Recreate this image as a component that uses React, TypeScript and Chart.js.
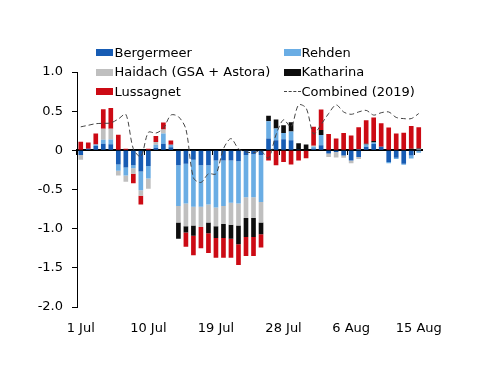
import React, { useEffect, useRef } from 'react';
import { Chart, registerables } from 'chart.js';

Chart.register(...registerables);

const categories = [
  '1 Jul', '2 Jul', '3 Jul', '4 Jul', '5 Jul', '6 Jul', '7 Jul', '8 Jul', '9 Jul', '10 Jul',
  '11 Jul', '12 Jul', '13 Jul', '14 Jul', '15 Jul', '16 Jul', '17 Jul', '18 Jul', '19 Jul', '20 Jul',
  '21 Jul', '22 Jul', '23 Jul', '24 Jul', '25 Jul', '26 Jul', '27 Jul', '28 Jul', '29 Jul', '30 Jul',
  '31 Jul', '1 Aug', '2 Aug', '3 Aug', '4 Aug', '5 Aug', '6 Aug', '7 Aug', '8 Aug', '9 Aug',
  '10 Aug', '11 Aug', '12 Aug', '13 Aug', '14 Aug', '15 Aug',
];

const tickLabels = ['1 Jul', '10 Jul', '19 Jul', '28 Jul', '6 Aug', '15 Aug'];

const bergermeer = [
  -0.06, 0.02, 0.055, 0.085, 0.077, -0.18, -0.22, -0.19, -0.27, -0.2,
  0.034, 0.085, 0.04, -0.19, -0.17, -0.12, -0.19, -0.19, -0.13, -0.13,
  -0.13, -0.14, -0.06, -0.05, -0.06, 0.15, 0.13, 0.14, 0.13, 0.01,
  0, 0.025, 0.065, -0.04, -0.02, -0.065, -0.13, -0.085, 0.045, 0.08,
  0.045, -0.15, -0.095, -0.17, -0.065, 0.005,
];
const rehden = [
  0, 0, 0.02, 0.05, 0.06, -0.08, -0.1, -0.04, -0.24, -0.16,
  0.038, 0.13, 0.03, -0.52, -0.51, -0.6, -0.53, -0.5, -0.6, -0.58,
  -0.54, -0.54, -0.54, -0.55, -0.6, 0.22, 0.15, 0.08, 0.11, 0,
  0, 0.02, 0.13, 0, 0, 0, 0, 0.015, 0.03, 0.02,
  0, -0.015, -0.015, -0.013, -0.04, -0.03,
];
const haidach = [
  -0.06, 0, 0, 0.14, 0.14, -0.06, -0.08, -0.07, -0.07, -0.13,
  0.034, 0.05, 0, -0.21, -0.29, -0.24, -0.26, -0.23, -0.24, -0.23,
  -0.28, -0.28, -0.265, -0.265, -0.26, 0, 0, 0, 0, 0,
  0, 0.015, 0, -0.045, -0.07, -0.03, -0.035, -0.025, 0, 0,
  0, 0, 0, 0, 0, 0.01,
];
const katharina = [
  0, 0, 0, 0, 0, 0, 0, 0, 0, 0,
  0, 0, 0, -0.21, -0.08, -0.13, 0, -0.14, -0.15, -0.18,
  -0.18, -0.24, -0.24, -0.24, -0.15, 0.07, 0.115, 0.1, 0.12, 0.08,
  0.075, 0, 0.065, 0, 0, 0, 0, 0, 0.01, 0.02,
  0, 0, 0, 0, 0.02, 0.01,
];
const lussagnet = [
  0.11, 0.08, 0.14, 0.25, 0.265, 0.2, 0.02, -0.12, -0.11, 0.02,
  0.077, 0.09, 0.055, 0, -0.18, -0.25, -0.27, -0.25, -0.25, -0.25,
  -0.24, -0.265, -0.245, -0.245, -0.17, -0.13, -0.19, -0.15, -0.18, -0.13,
  -0.1, 0.24, 0.26, 0.21, 0.15, 0.22, 0.19, 0.28, 0.3, 0.3,
  0.3, 0.29, 0.215, 0.225, 0.29, 0.27,
];
const combined2019 = [
  0.3, 0.32, 0.34, 0.345, 0.35, 0.4, 0.46, 0.02, -0.08, 0.23,
  0.22, 0.28, 0.45, 0.43, 0.27, -0.35, -0.41, -0.3, -0.3, 0.02,
  0.15, 0.02, -0.02, -0.03, -0.01, -0.1, 0.2, 0.39, 0.3, 0.58,
  0.54, 0.21, 0.33, 0.47, 0.58, 0.49, 0.46, 0.49, 0.51, 0.45,
  0.48, 0.49, 0.42, 0.405, 0.405, 0.47,
];

const seriesNames = ['Bergermeer', 'Rehden', 'Haidach (GSA + Astora)', 'Katharina', 'Lussagnet', 'Combined (2019)'];
const seriesColors = ['#175cb4', '#6aade4', '#bfbfbf', '#0d0d0d', '#cc0a14', '#444444'];

const FONT = 'DejaVu Sans';

export default function App() {
  const canvasRef = useRef<HTMLCanvasElement | null>(null);

  useEffect(() => {
    if (!canvasRef.current) return;
    const barValues = [bergermeer, rehden, haidach, katharina, lussagnet];
    const barSets = barValues.map((vals, k) => ({
      type: 'bar' as const,
      label: seriesNames[k],
      data: vals,
      backgroundColor: seriesColors[k],
      borderWidth: 0,
      barPercentage: 0.62,
      categoryPercentage: 1,
      stack: 'storage',
      xAxisID: 'x',
      yAxisID: 'y',
      order: 2,
    }));
    const chart = new Chart(canvasRef.current, {
      type: 'bar',
      data: {
        labels: categories,
        datasets: [
          ...barSets,
          {
            type: 'line' as const,
            label: seriesNames[5],
            data: combined2019,
            borderColor: seriesColors[5],
            borderWidth: 1,
            borderDash: [5, 3],
            pointRadius: 0,
            tension: 0.3,
            fill: false,
            stack: 'combined',
            xAxisID: 'x',
            yAxisID: 'y',
            order: 1,
          } as any,
        ],
      },
      options: {
        animation: false,
        responsive: true,
        maintainAspectRatio: false,
        layout: { padding: { left: 0, right: 77.5, top: 72, bottom: 0 } },
        plugins: {
          legend: { display: false },
          tooltip: { enabled: false },
        },
        scales: {
          x: {
            type: 'category',
            position: 'bottom',
            stacked: true,
            offset: true,
            grid: { display: false, drawTicks: false },
            border: { display: false },
            ticks: {
              autoSkip: false,
              maxRotation: 0,
              minRotation: 0,
              padding: 14,
              color: '#000',
              font: { family: FONT, size: 13 },
              callback: (_v: any, i: number) => (tickLabels.includes(categories[i]) ? categories[i] : ''),
            },
            afterFit: (scale: any) => {
              scale.height = 79;
            },
          },
          x0: {
            type: 'category',
            position: { y: 0 } as any,
            offset: true,
            z: 1,
            grid: {
              display: true,
              drawOnChartArea: false,
              drawTicks: true,
              tickLength: 4,
              offset: true,
              tickColor: (ctx: any) => (tickLabels.includes(categories[ctx.index]) ? '#000' : 'rgba(0,0,0,0)'),
              color: 'rgba(0,0,0,0)',
            },
            border: { display: true, color: '#000', width: 2 },
            ticks: { display: false, autoSkip: false },
          } as any,
          y: {
            stacked: true,
            min: -2,
            max: 1,
            grid: {
              display: true,
              drawOnChartArea: false,
              drawTicks: true,
              tickLength: 5,
              tickColor: '#000',
            },
            border: { display: true, color: '#000', width: 1 },
            ticks: {
              stepSize: 0.5,
              padding: 9,
              color: '#000',
              font: { family: FONT, size: 13 },
              callback: (v: any) => (Number(v) === 0 ? '0' : Number(v).toFixed(1)),
            },
            afterFit: (scale: any) => {
              scale.width = 77;
            },
          },
        },
      },
    });
    return () => chart.destroy();
  }, []);

  const legendRows = [
    [0, 1],
    [2, 3],
    [4, 5],
  ];
  const rowCenters = [52.5, 72, 91.5];
  const colSwatch = [96, 283.5];
  const colText = [114.5, 301.5];

  return (
    <div style={{ position: 'fixed', left: 0, top: 0, width: 500, height: 386, background: '#fff' }}>
      <canvas ref={canvasRef} />
      {legendRows.map((row, r) =>
        row.map((k, c) => (
          <React.Fragment key={k}>
            {k === 5 ? (
              <div
                style={{
                  position: 'absolute',
                  left: colSwatch[c],
                  top: rowCenters[r] - 0.5,
                  width: 17,
                  height: 0,
                  borderTop: `1px dashed ${seriesColors[k]}`,
                }}
              />
            ) : (
              <div
                style={{
                  position: 'absolute',
                  left: colSwatch[c],
                  top: rowCenters[r] - 3.5,
                  width: 17,
                  height: 7,
                  background: seriesColors[k],
                }}
              />
            )}
            <div
              style={{
                position: 'absolute',
                left: colText[c],
                top: rowCenters[r] - 8,
                height: 16,
                lineHeight: '16px',
                fontFamily: FONT,
                fontSize: 13,
                color: '#000',
                whiteSpace: 'nowrap',
              }}
            >
              {seriesNames[k]}
            </div>
          </React.Fragment>
        ))
      )}
    </div>
  );
}
